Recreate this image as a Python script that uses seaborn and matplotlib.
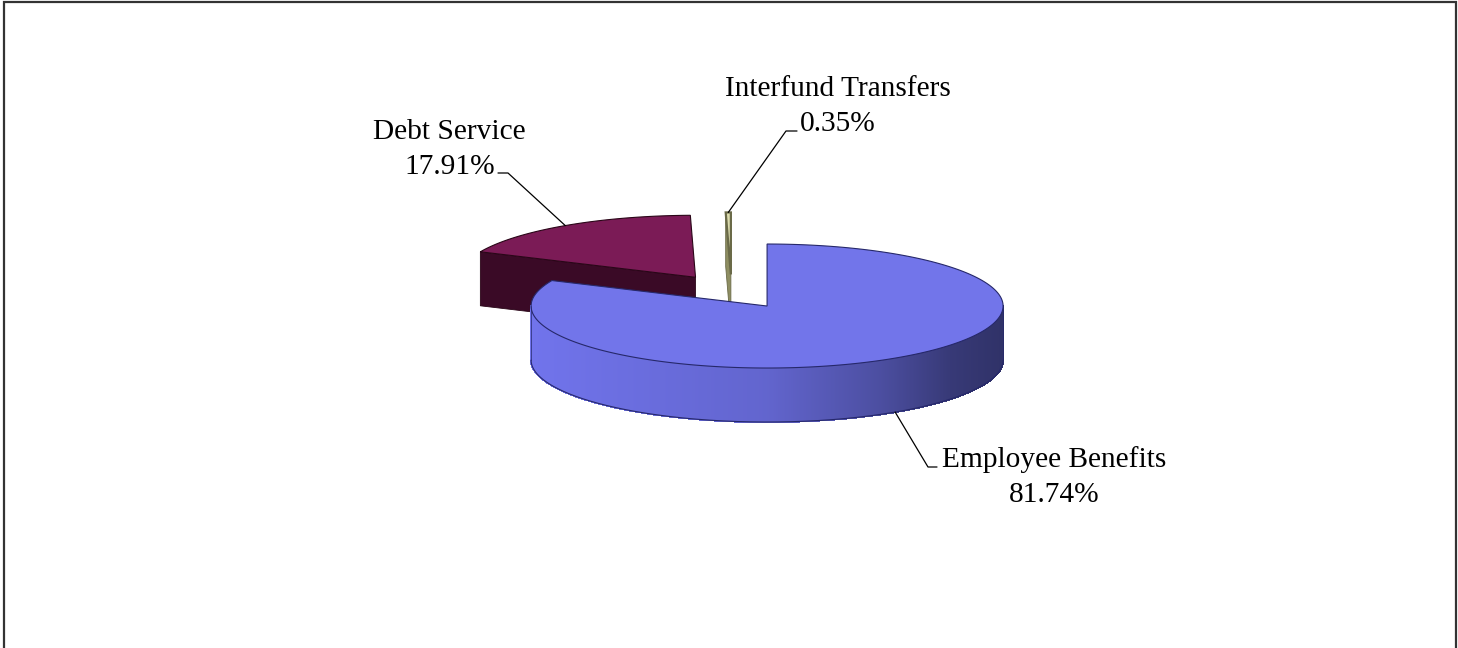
import numpy as np
import matplotlib
matplotlib.use("Agg")
import matplotlib.pyplot as plt
from matplotlib.patches import Polygon
from matplotlib.collections import PolyCollection
from matplotlib.colors import to_rgb
import seaborn as sns

# ---- data -------------------------------------------------------------
categories = ["Employee Benefits", "Debt Service", "Interfund Transfers"]
shares = [81.74, 17.91, 0.35]
pct_labels = ["81.74%", "17.91%", "0.35%"]

# ---- styling ----------------------------------------------------------
top_colors = ["#7275EA", "#7B1B56", "#DCDCAE"]
side_light = ["#7174EC", "#3A0A26", "#8E8E62"]
side_dark = ["#2E3064", "#3A0A26", "#8E8E62"]
edge_colors = ["#26286A", "#2A0618", "#6A6A48"]
edge_widths = [0.8, 0.8, 1.6]

sns.set_theme(style="white")
plt.rcParams["font.family"] = ["Liberation Serif", "DejaVu Serif"]

W, H = 1458, 648
fig = plt.figure(figsize=(W / 100, H / 100), dpi=100)
ax = fig.add_axes([0, 0, 1, 1])
ax.set_xlim(0, W)
ax.set_ylim(H, 0)
ax.axis("off")

# pie geometry in pixel units
cx, cy = 731.6, 291.6
rx, ry = 236.0, 62.0
depth = 54.0
explode = 0.277

fr = np.array(shares) / np.sum(shares)
sweeps = 360.0 * fr
ends = 90.0 - np.concatenate([[0.0], np.cumsum(sweeps)[:-1]])  # clockwise from 12 o'clock
starts = ends - sweeps
mids = (starts + ends) / 2.0


def rim(ox, oy, th, z=0.0):
    t = np.radians(th)
    return ox + rx * np.cos(t), oy - ry * np.sin(t) + z


def wall_shade(i, c):
    """Side colour along the outer wall: light on the left, dark on the right."""
    t = (c + 1.0) / 2.0
    lo, hi = np.array(to_rgb(side_light[i])), np.array(to_rgb(side_dark[i]))
    k = np.interp(t, [0.0, 0.5, 0.74, 0.89, 1.0], [0.0, 0.22, 0.55, 0.86, 0.97])
    return tuple(lo + (hi - lo) * k)


centers = []
for i in range(len(shares)):
    m = np.radians(mids[i])
    centers.append((cx + explode * rx * np.cos(m), cy - explode * ry * np.sin(m)))

order = np.argsort([c[1] for c in centers])  # back slices first

for i in order:
    ox, oy = centers[i]
    a0, a1 = starts[i], ends[i]

    # radial cut faces facing the viewer
    for a, n in ((a0, a0 - 90.0), (a1, a1 + 90.0)):
        if np.sin(np.radians(n)) < -1e-6:
            x, y = rim(ox, oy, a)
            face = Polygon([(ox, oy), (x, y), (x, y + depth), (ox, oy + depth)],
                           closed=True, facecolor=side_dark[i],
                           edgecolor=edge_colors[i], lw=0.6)
            ax.add_patch(face)

    # outer wall, front-facing part only
    th = np.linspace(a0, a1, max(4, int(abs(a1 - a0) * 3)))
    front = np.sin(np.radians(th)) < 0
    if front.sum() > 1:
        tw = th[front]
        quads, cols = [], []
        for t0, t1 in zip(tw[:-1], tw[1:]):
            x0, y0 = rim(ox, oy, t0)
            x1, y1 = rim(ox, oy, t1)
            quads.append([(x0, y0), (x1, y1), (x1, y1 + depth), (x0, y0 + depth)])
            cols.append(wall_shade(i, np.cos(np.radians((t0 + t1) / 2))))
        ax.add_collection(PolyCollection(quads, facecolors=cols, edgecolors=cols,
                                         lw=0.8, antialiased=False))
        bx, by = rim(ox, oy, tw, depth)
        ax.plot(bx, by, color=edge_colors[i], lw=0.8)
        for tt in (tw[0], tw[-1]):
            ex, ey = rim(ox, oy, tt)
            ax.plot([ex, ex], [ey, ey + depth], color=edge_colors[i], lw=0.5)

    # top face
    xs, ys = rim(ox, oy, np.linspace(a0, a1, max(3, int(abs(a1 - a0) * 2))))
    top = Polygon(np.column_stack([np.r_[ox, xs], np.r_[oy, ys]]), closed=True,
                  facecolor=top_colors[i], edgecolor=edge_colors[i], lw=edge_widths[i])
    ax.add_patch(top)

# ---- labels with elbow leaders ---------------------------------------
label_xy = [(1054.5, 502.0), (449.5, 174.0), (838.0, 131.0)]  # centre x, last-line baseline
leader_knee = [(928.0, 467.0), (508.0, 173.0), (786.0, 131.0)]
leader_tail = [937.0, 498.0, 797.0]

for i in range(len(shares)):
    ox, oy = centers[i]
    z = depth if np.sin(np.radians(mids[i])) < 0 else 0.0
    sx, sy = rim(ox, oy, mids[i], z)
    kx, ky = leader_knee[i]
    ax.plot([sx, kx, leader_tail[i]], [sy, ky, ky], color="black", lw=0.9)
    ax.text(label_xy[i][0], label_xy[i][1], f"{categories[i]}\n{pct_labels[i]}",
            ha="center", va="baseline", multialignment="center",
            fontsize=21.2, linespacing=1.45, color="black")

# chart frame
ax.plot([4.5, 4.5, 1456.5, 1456.5], [H + 5, 1.5, 1.5, H + 5], color="#333333", lw=1.6,
        solid_joinstyle="miter")

fig.savefig("out.png", dpi=100, facecolor="white")
